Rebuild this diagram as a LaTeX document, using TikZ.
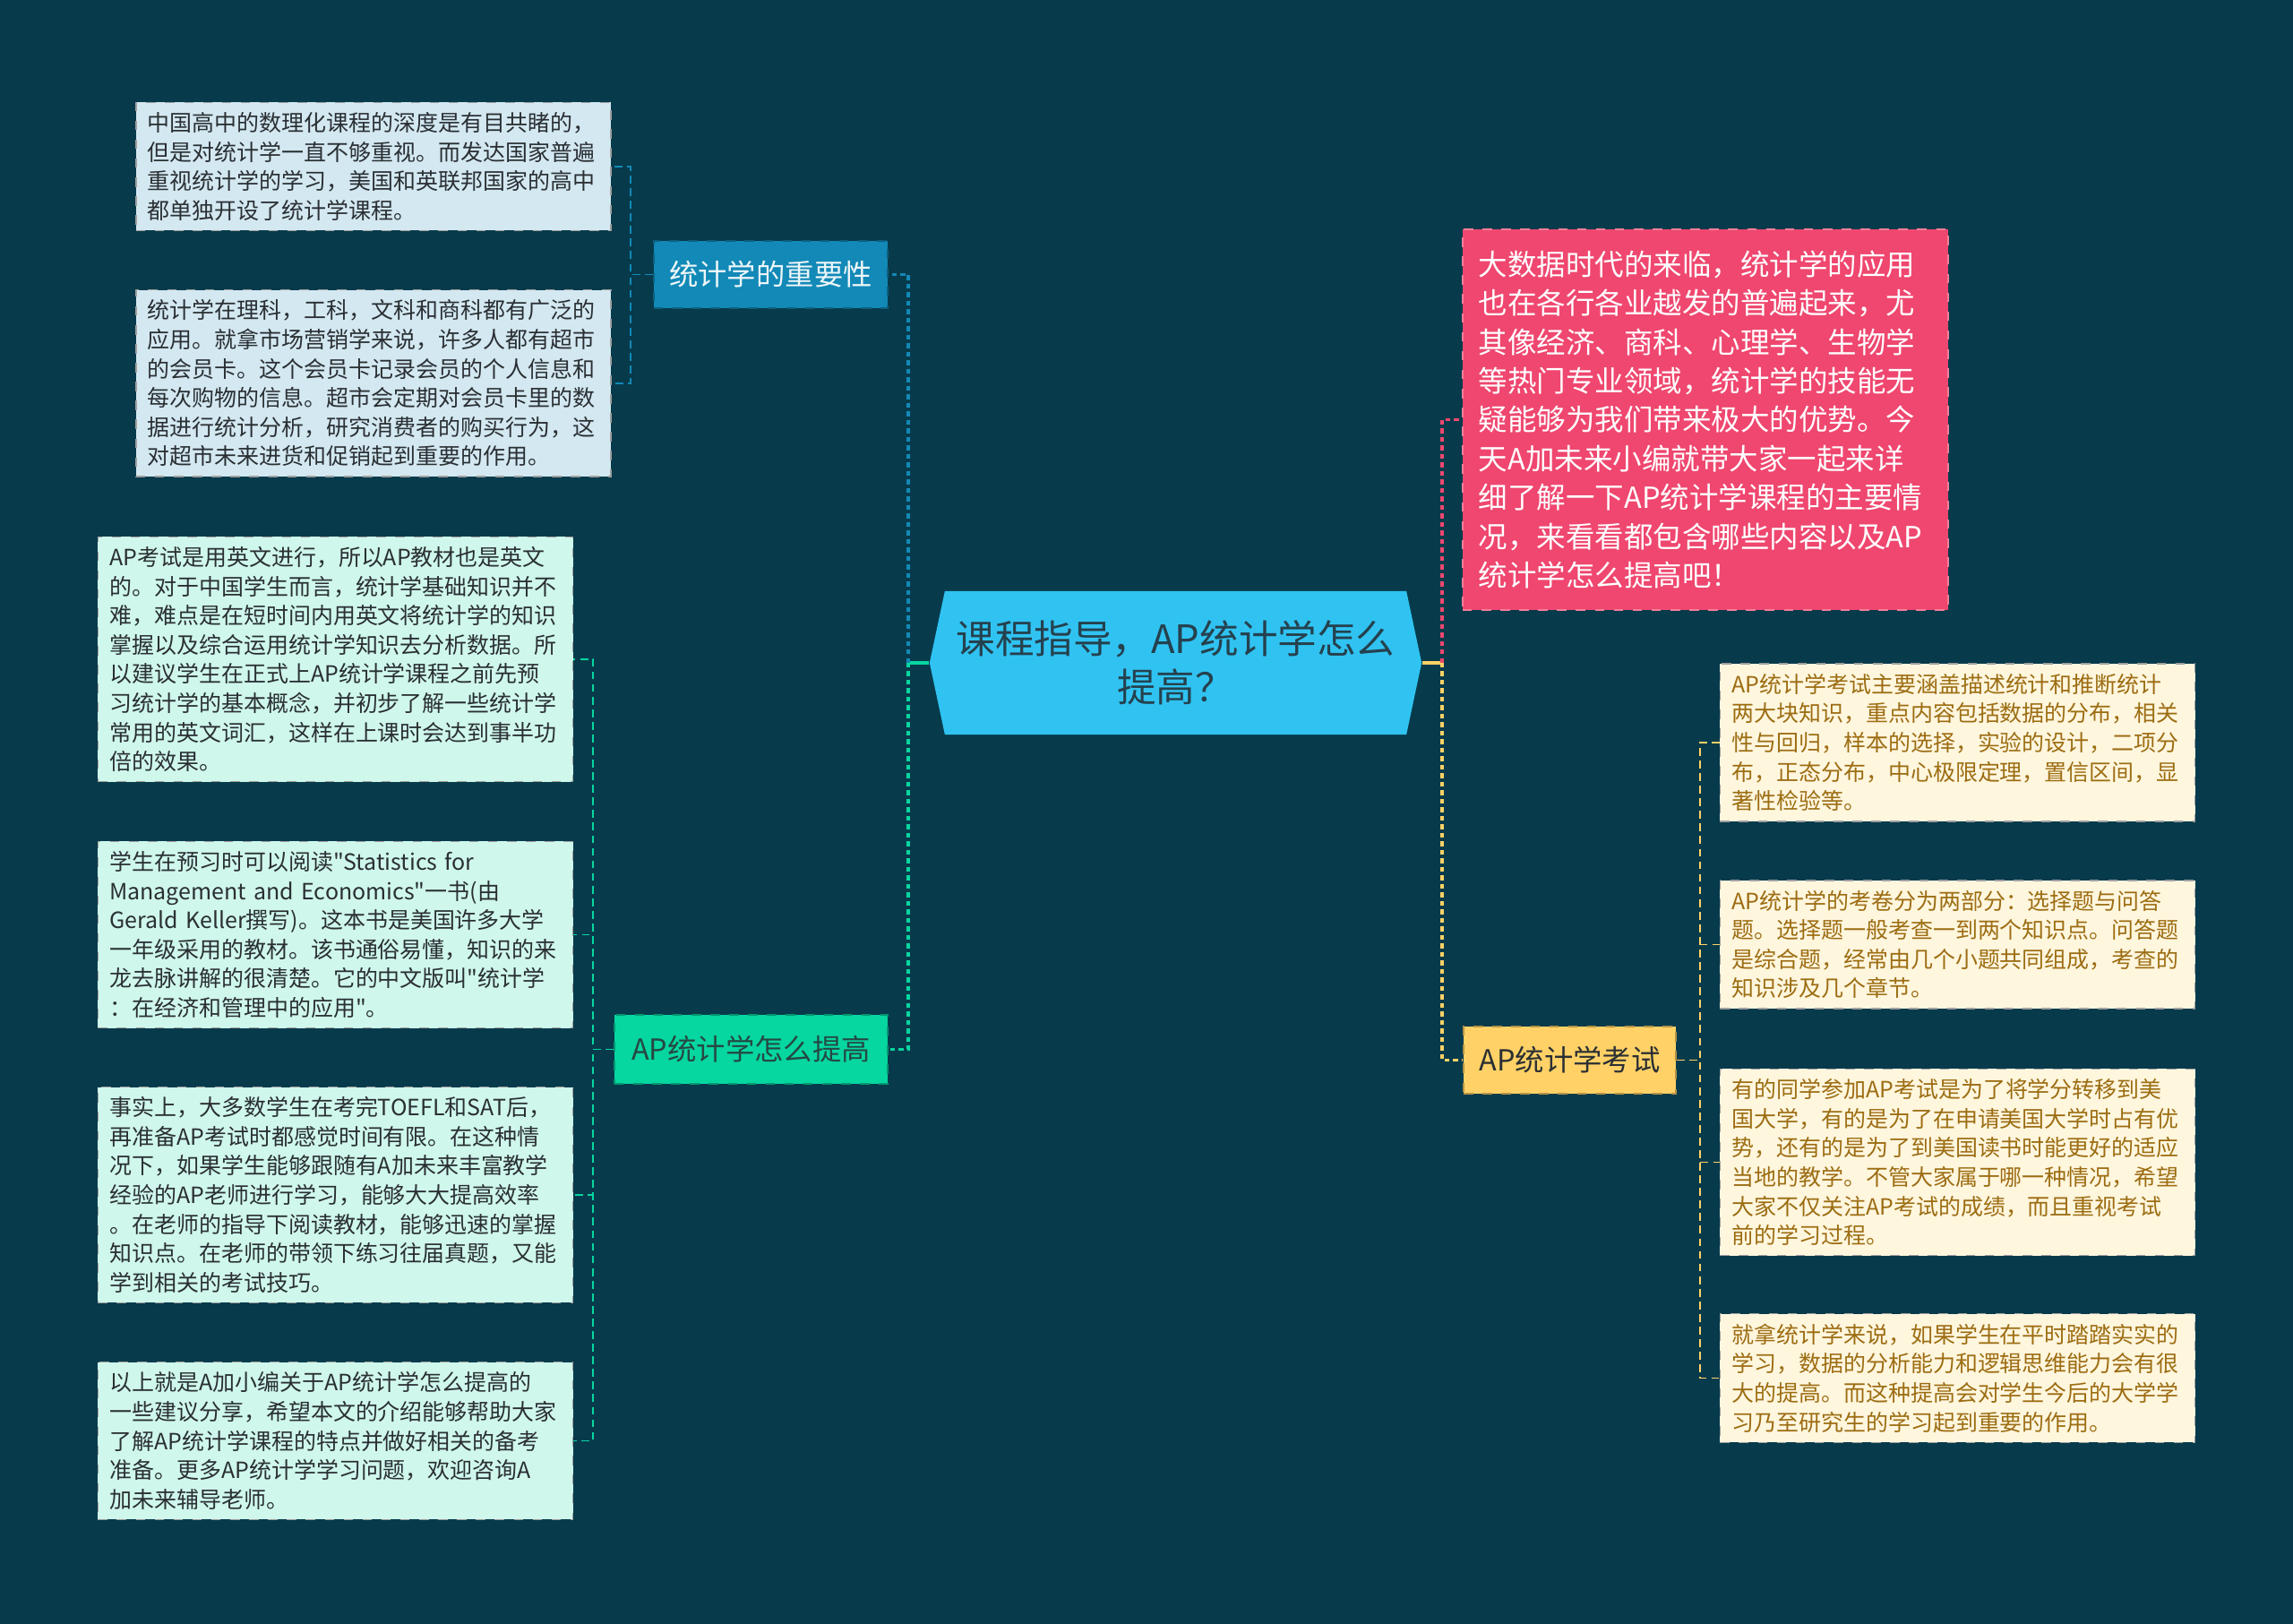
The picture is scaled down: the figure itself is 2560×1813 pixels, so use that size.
\documentclass[tikz,border=0pt]{standalone}
\usepackage{fontspec}
\newfontfamily\cjkfont{Noto Sans CJK SC}
\usetikzlibrary{shapes.symbols}

\definecolor{fondo}{HTML}{073B4C}
\definecolor{ccentro}{HTML}{30C3F2}
\definecolor{cazul}{HTML}{1289B7}
\definecolor{cverde}{HTML}{06D6A0}
\definecolor{crosa}{HTML}{EF476F}
\definecolor{camar}{HTML}{FFD166}
\definecolor{hazul}{HTML}{D3E8F1}
\definecolor{hverde}{HTML}{CFF7EC}
\definecolor{hamar}{HTML}{FFF6DE}
\definecolor{toscuro}{HTML}{2A2F33}
\definecolor{toro}{HTML}{9C6D12}

\begin{document}
\begin{tikzpicture}[
    x=0.01cm, y=-0.01cm,
    % Estilos de las cajas (tema, ramas y hojas)
    topic/.style={shape=signal, signal to=west and east, signal pointer angle=156, fill=ccentro, text=toscuro!80!cazul, font=\cjkfont\fontsize{12.4}{15.3}\selectfont, align=center, minimum width=5.49cm, minimum height=1.6cm, inner sep=0pt},
    branch/.style={fill=#1, draw=#1!70!black, dashed, line width=0.4pt, font=\cjkfont\fontsize{9.2}{11}\selectfont, minimum height=0.75cm, inner sep=0pt},
    leaf/.style={fill=#1, draw=gray!75, dashed, line width=0.4pt, text=toscuro, font=\cjkfont\fontsize{7.1}{9.27}\selectfont, align=left, text width=5.04cm, inner xsep=0.13cm, inner ysep=0.11cm},
    mainline/.style={draw=#1, line width=1pt, dash pattern=on 1.5pt off 1.2pt},
    subline/.style={draw=#1, line width=0.55pt, dash pattern=on 2.5pt off 1.5pt}
]

% ---------------------------------------------------------
% 0. FONDO
% ---------------------------------------------------------
\fill[fondo] (0,0) rectangle (2560,1813);

% ---------------------------------------------------------
% 1. CAJAS Y TEXTOS (Nodos)
% ---------------------------------------------------------
% TEMA CENTRAL
\node[topic] (main) at (1312.5,740) {课程指导，AP统计学怎么\\提高？};

% --- RAMAS ---
\node[branch=cazul, text=white!92!cazul, minimum width=2.61cm] (imp) at (860.5,306.5) {统计学的重要性};
\node[branch=cverde, text=toscuro!85!cverde, minimum width=3.05cm, minimum height=0.77cm] (tips) at (838.5,1171.5) {AP统计学怎么提高};
\node[branch=camar, text=toscuro, minimum width=2.37cm] (exam) at (1752.5,1183.5) {AP统计学考试};
\node[fill=crosa, draw=crosa!70!white, dashed, line width=0.4pt, text=white, font=\cjkfont\fontsize{9.24}{12.33}\selectfont, align=left, text width=5.06cm, inner xsep=0.18cm, minimum height=4.25cm] (intro) at (1904,468.5) {大数据时代的来临，统计学的应用\\也在各行各业越发的普遍起来，尤\\其像经济、商科、心理学、生物学\\等热门专业领域，统计学的技能无\\疑能够为我们带来极大的优势。今\\天A加未来小编就带大家一起来详\\细了解一下AP统计学课程的主要情\\况，来看看都包含哪些内容以及AP\\统计学怎么提高吧！};

% --- HOJAS: 统计学的重要性 ---
\node[leaf=hazul] (imp1) at (417,186) {中国高中的数理化课程的深度是有目共睹的，\\但是对统计学一直不够重视。而发达国家普遍\\重视统计学的学习，美国和英联邦国家的高中\\都单独开设了统计学课程。};
\node[leaf=hazul] (imp2) at (417,428) {统计学在理科，工科，文科和商科都有广泛的\\应用。就拿市场营销学来说，许多人都有超市\\的会员卡。这个会员卡记录会员的个人信息和\\每次购物的信息。超市会定期对会员卡里的数\\据进行统计分析，研究消费者的购买行为，这\\对超市未来进货和促销起到重要的作用。};

% --- HOJAS: AP统计学怎么提高 ---
\node[leaf=hverde] (tips1) at (374.5,736) {AP考试是用英文进行，所以AP教材也是英文\\的。对于中国学生而言，统计学基础知识并不\\难，难点是在短时间内用英文将统计学的知识\\掌握以及综合运用统计学知识去分析数据。所\\以建议学生在正式上AP统计学课程之前先预\\习统计学的基本概念，并初步了解一些统计学\\常用的英文词汇，这样在上课时会达到事半功\\倍的效果。};
\node[leaf=hverde] (tips2) at (374.5,1043.5) {学生在预习时可以阅读"Statistics for\\Management and Economics"一书(由\\Gerald Keller撰写)。这本书是美国许多大学\\一年级采用的教材。该书通俗易懂，知识的来\\龙去脉讲解的很清楚。它的中文版叫"统计学\\：在经济和管理中的应用"。};
\node[leaf=hverde] (tips3) at (374.5,1334) {事实上，大多数学生在考完TOEFL和SAT后，\\再准备AP考试时都感觉时间有限。在这种情\\况下，如果学生能够跟随有A加未来丰富教学\\经验的AP老师进行学习，能够大大提高效率\\。在老师的指导下阅读教材，能够迅速的掌握\\知识点。在老师的带领下练习往届真题，又能\\学到相关的考试技巧。};
\node[leaf=hverde] (tips4) at (374.5,1608.5) {以上就是A加小编关于AP统计学怎么提高的\\一些建议分享，希望本文的介绍能够帮助大家\\了解AP统计学课程的特点并做好相关的备考\\准备。更多AP统计学学习问题，欢迎咨询A\\加未来辅导老师。};

% --- HOJAS: AP统计学考试 ---
\node[leaf=hamar, text=toro] (exam1) at (2185.5,829) {AP统计学考试主要涵盖描述统计和推断统计\\两大块知识，重点内容包括数据的分布，相关\\性与回归，样本的选择，实验的设计，二项分\\布，正态分布，中心极限定理，置信区间，显\\著性检验等。};
\node[leaf=hamar, text=toro] (exam2) at (2185.5,1054.5) {AP统计学的考卷分为两部分：选择题与问答\\题。选择题一般考查一到两个知识点。问答题\\是综合题，经常由几个小题共同组成，考查的\\知识涉及几个章节。};
\node[leaf=hamar, text=toro] (exam3) at (2185.5,1297.5) {有的同学参加AP考试是为了将学分转移到美\\国大学，有的是为了在申请美国大学时占有优\\势，还有的是为了到美国读书时能更好的适应\\当地的教学。不管大家属于哪一种情况，希望\\大家不仅关注AP考试的成绩，而且重视考试\\前的学习过程。};
\node[leaf=hamar, text=toro] (exam4) at (2185.5,1538.5) {就拿统计学来说，如果学生在平时踏踏实实的\\学习，数据的分析能力和逻辑思维能力会有很\\大的提高。而这种提高会对学生今后的大学学\\习乃至研究生的学习起到重要的作用。};

% ---------------------------------------------------------
% 2. LÍNEAS (Conexiones)
% ---------------------------------------------------------
% Tronco izquierdo y derecho
\coordinate (jl) at (1014,740);
\coordinate (jr) at (1610,740);
\draw[cverde, line width=1pt] (main.west) -- (jl);
\draw[camar, line width=1pt] (main.east) -- (jr);
\draw[mainline=cazul] (jl) |- (imp.east);
\draw[mainline=cverde] (jl) |- (tips.east);
\draw[mainline=crosa] (jr) |- (intro.west);
\draw[mainline=camar] (jr) |- (exam.west);

% Sub-árbol de 统计学的重要性
\foreach \n in {imp1, imp2} \draw[subline=cazul] (imp.west) -- ++(-25,0) |- (\n.east);

% Sub-árbol de AP统计学怎么提高
\foreach \n in {tips1, tips2, tips3, tips4} \draw[subline=cverde] (tips.west) -- ++(-23,0) |- (\n.east);

% Sub-árbol de AP统计学考试
\foreach \n in {exam1, exam2, exam3, exam4} \draw[subline=camar] (exam.east) -- ++(26,0) |- (\n.west);

\end{tikzpicture}
\end{document}
